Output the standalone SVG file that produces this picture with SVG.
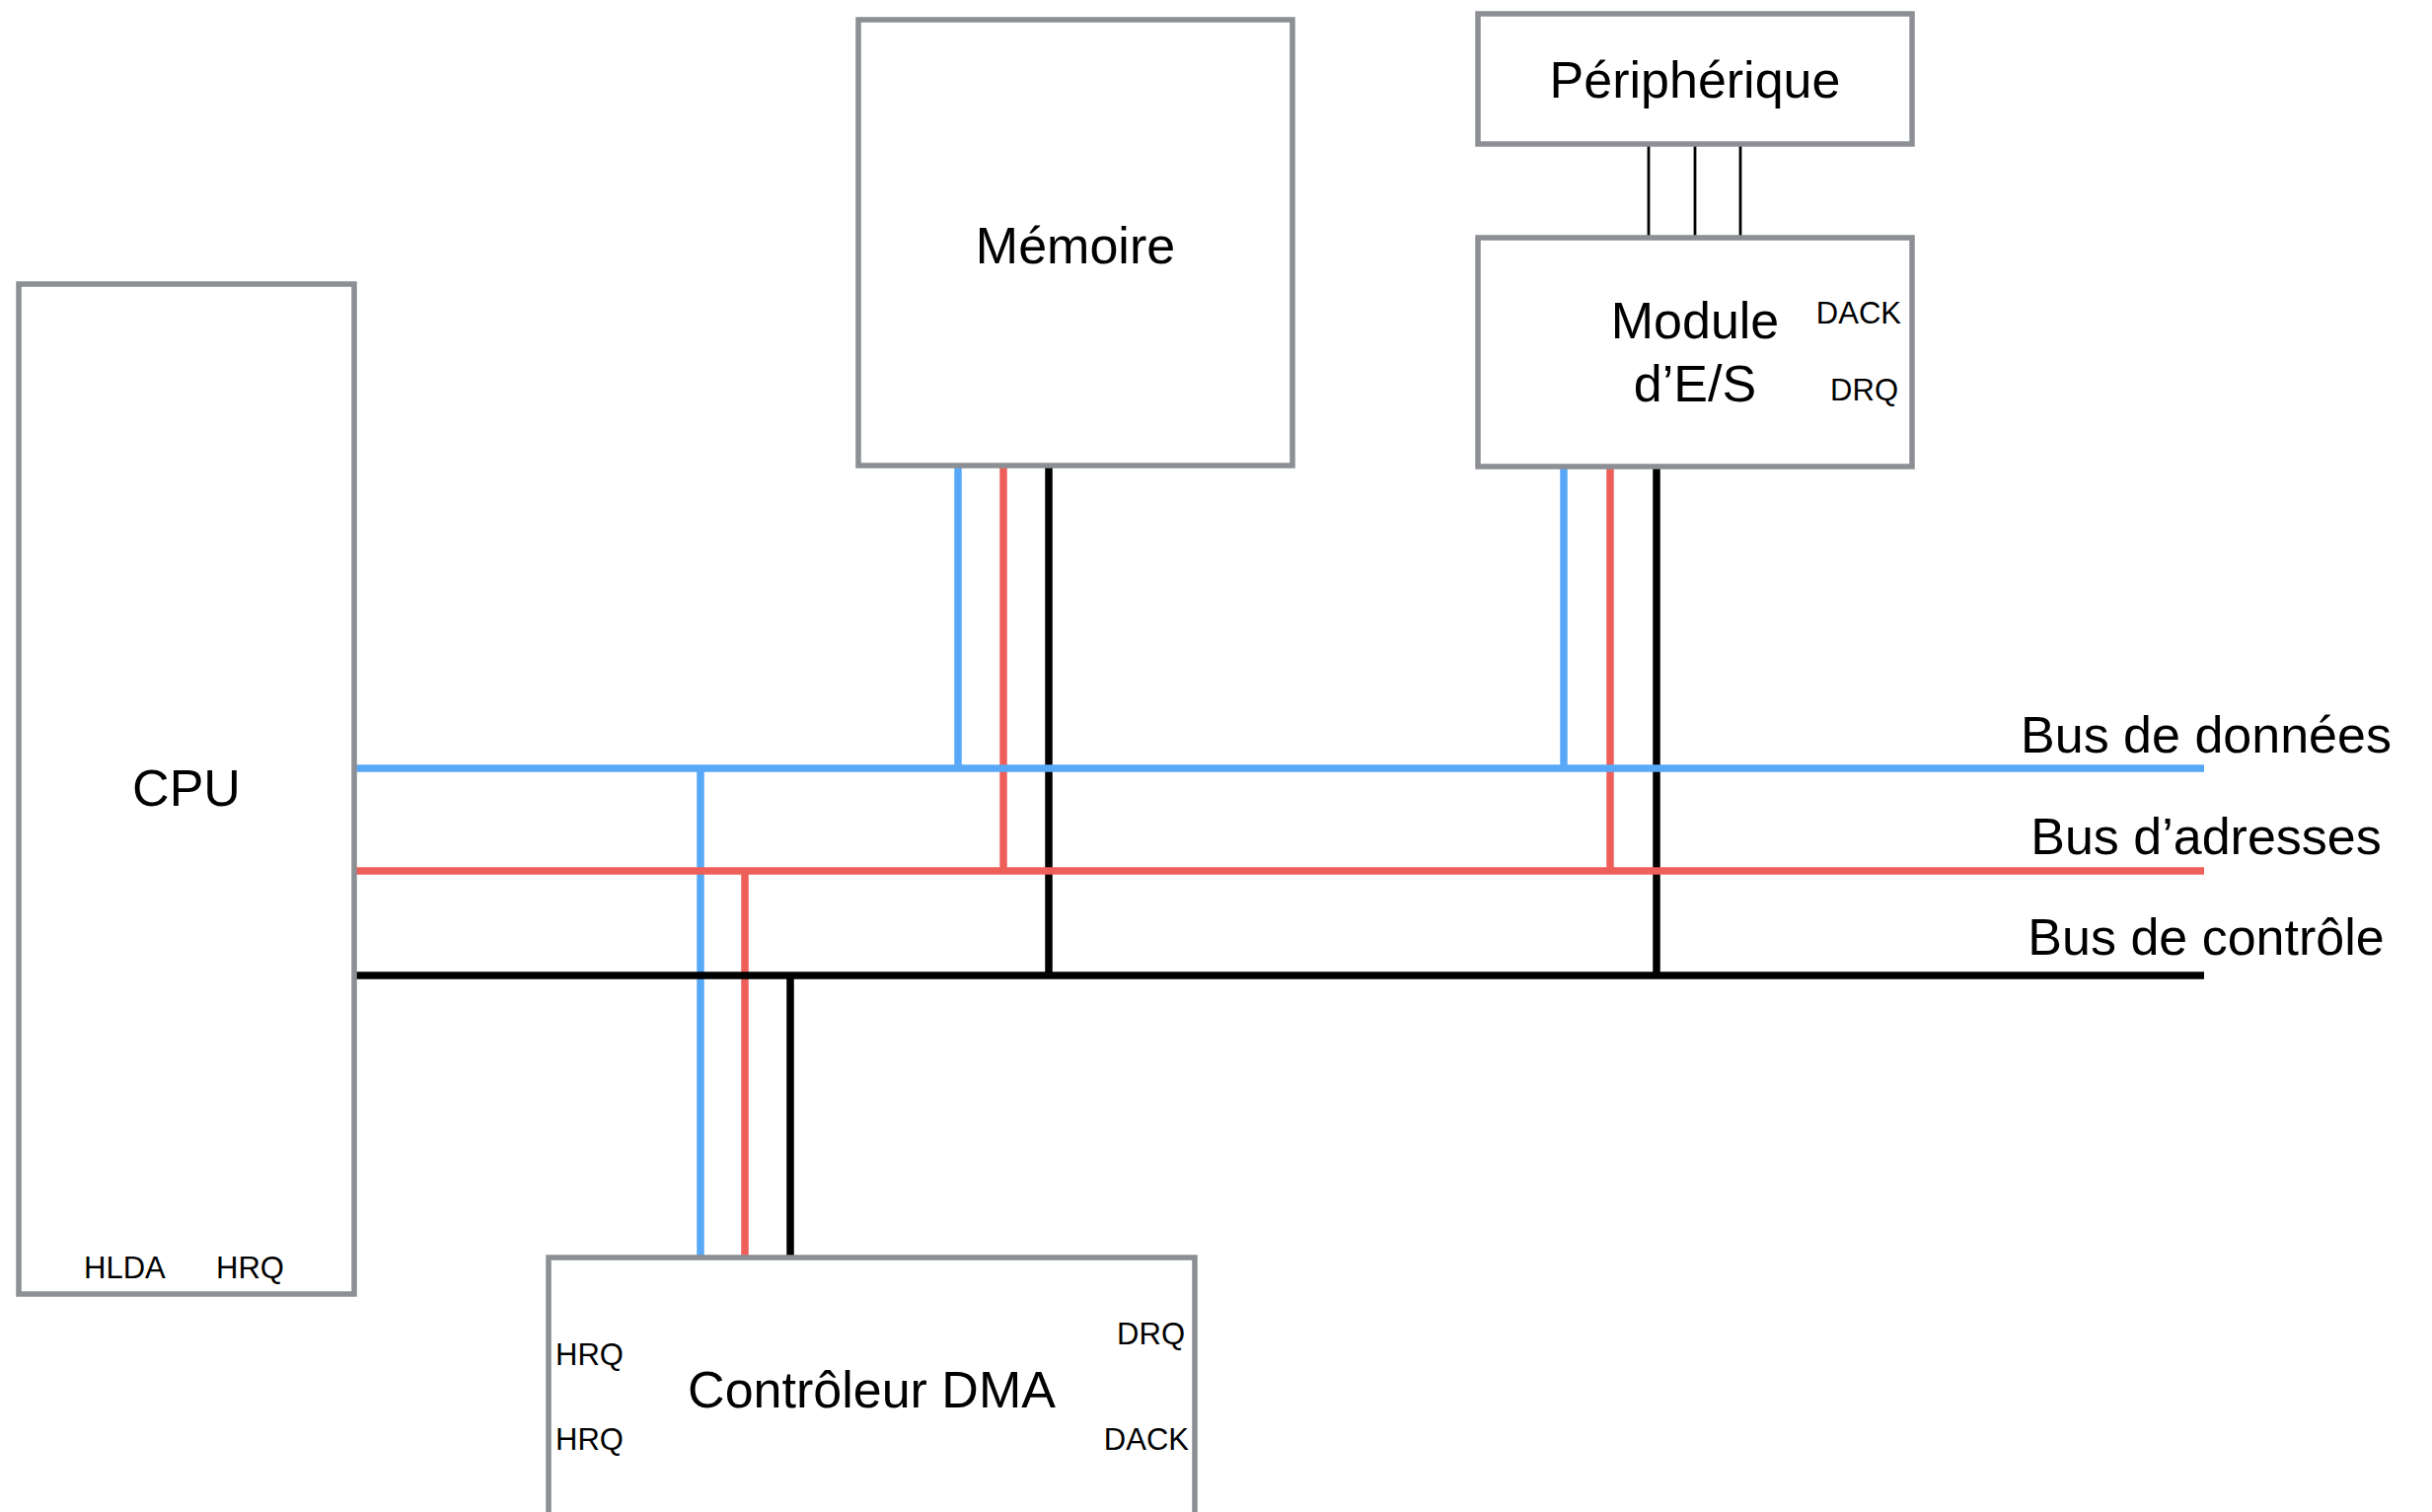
<svg xmlns="http://www.w3.org/2000/svg" width="2465" height="1533" viewBox="0 0 2465 1533">
<style>
.box{fill:#ffffff;stroke:#8c8f93;stroke-width:5.5}
.t{font-family:"Liberation Sans",Arial,sans-serif;fill:#000000}
.big{font-size:52px}
.sm{font-size:31px}
.mid{text-anchor:middle}
.end{text-anchor:end}
.blue{stroke:#58a8f8;stroke-width:7.5;fill:none}
.red{stroke:#ee5f5a;stroke-width:7.5;fill:none}
.blk{stroke:#000000;stroke-width:7.5;fill:none}
.thin{stroke:#000000;stroke-width:2.8;fill:none}
</style>
<rect width="2465" height="1533" fill="#ffffff"/>
<g id="connectors">
  <line class="thin" x1="1671" y1="146" x2="1671" y2="241"/>
  <line class="thin" x1="1718" y1="146" x2="1718" y2="241"/>
  <line class="thin" x1="1764" y1="146" x2="1764" y2="241"/>
  <line class="blue" x1="971" y1="472" x2="971" y2="779"/>
  <line class="red" x1="1017" y1="472" x2="1017" y2="883"/>
  <line class="blk" x1="1063" y1="472" x2="1063" y2="989"/>
  <line class="blue" x1="1585" y1="473" x2="1585" y2="779"/>
  <line class="red" x1="1632" y1="473" x2="1632" y2="883"/>
  <line class="blk" x1="1679" y1="473" x2="1679" y2="989"/>
  <line class="blue" x1="710" y1="779" x2="710" y2="1275"/>
  <line class="red" x1="755" y1="883" x2="755" y2="1275"/>
  <line class="blk" x1="801" y1="989" x2="801" y2="1275"/>
  <line class="blue" x1="359" y1="779" x2="2234" y2="779"/>
  <line class="red" x1="359" y1="883" x2="2234" y2="883"/>
  <line class="blk" x1="359" y1="989" x2="2234" y2="989"/>
</g>
<g id="cpu">
  <rect class="box" x="19" y="288" width="340" height="1024"/>
  <text class="t big mid" x="189" y="817">CPU</text>
  <text class="t sm" x="85" y="1296">HLDA</text>
  <text class="t sm" x="219" y="1296">HRQ</text>
</g>
<g id="memoire">
  <rect class="box" x="870" y="20" width="440" height="452"/>
  <text class="t big mid" x="1090" y="267">Mémoire</text>
</g>
<g id="peripherique">
  <rect class="box" x="1498" y="14" width="440" height="132"/>
  <text class="t big mid" x="1718" y="99">Périphérique</text>
</g>
<g id="module-es">
  <rect class="box" x="1498" y="241" width="440" height="232"/>
  <text class="t big mid" x="1718" y="343">Module</text>
  <text class="t big mid" x="1718" y="407">d’E/S</text>
  <text class="t sm end" x="1927" y="328">DACK</text>
  <text class="t sm end" x="1924" y="406">DRQ</text>
</g>
<g id="dma">
  <rect class="box" x="556" y="1275" width="655" height="320"/>
  <text class="t big mid" x="883.5" y="1427">Contrôleur DMA</text>
  <text class="t sm" x="563" y="1384">HRQ</text>
  <text class="t sm" x="563" y="1470">HRQ</text>
  <text class="t sm end" x="1201" y="1363">DRQ</text>
  <text class="t sm end" x="1205" y="1470">DACK</text>
</g>
<g id="bus-labels">
  <text class="t big mid" x="2236" y="763">Bus de données</text>
  <text class="t big mid" x="2236" y="866">Bus d’adresses</text>
  <text class="t big mid" x="2236" y="968">Bus de contrôle</text>
</g>
</svg>
